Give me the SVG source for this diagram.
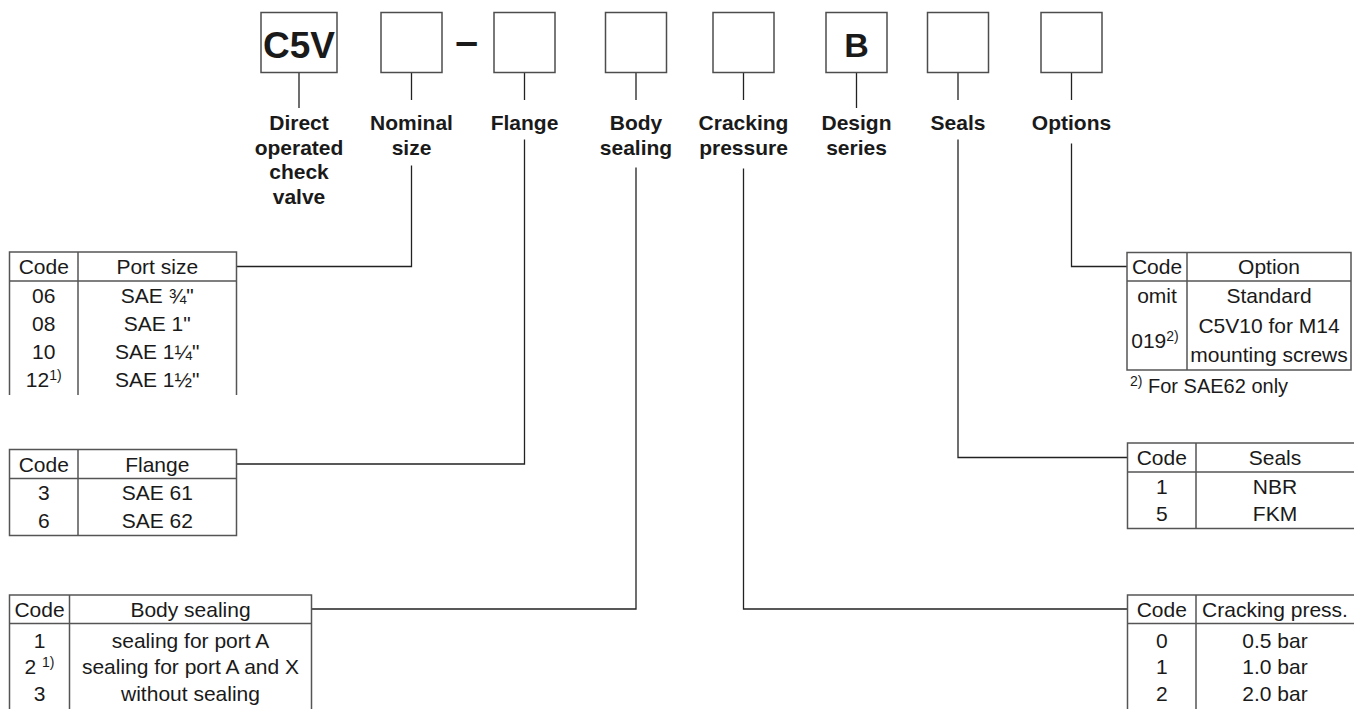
<svg xmlns="http://www.w3.org/2000/svg" width="1354" height="709" viewBox="0 0 1354 709">
<style>
text { font-family: "Liberation Sans", Arial, Helvetica, sans-serif; fill: #1a1a1a; }
.box { fill: #fff; stroke: #4d4d4d; stroke-width: 1.5; }
.lbl { font-size: 21px; font-weight: bold; text-anchor: middle; }
.code { font-weight: bold; text-anchor: middle; }
.tb { fill: none; stroke: #555; stroke-width: 1.5; }
.td { font-size: 21px; text-anchor: middle; }
.sup { font-size: 14px; }
.con { fill: none; stroke: #222; stroke-width: 1.3; }
</style>
<rect width="1354" height="709" fill="#fff"/>

<g id="connectors">
  <path class="con" d="M299,72.5 V108 M411.5,72.5 V100 M524.5,72.5 V100 M636,72.5 V100 M743.5,72.5 V100 M856.5,72.5 V108 M958,72.5 V100 M1071.5,72.5 V100"/>
  <path class="con" d="M411.5,165.5 V266.5 H236.5"/>
  <path class="con" d="M524.5,139.5 V464 H236.5"/>
  <path class="con" d="M636,167.5 V609 H311.5"/>
  <path class="con" d="M743.5,168.5 V609 H1127.5"/>
  <path class="con" d="M958,139.5 V457.5 H1127.5"/>
  <path class="con" d="M1071.5,143.5 V266.5 H1127"/>
</g>

<g id="pos-type">
  <rect class="box" x="261" y="12.5" width="76" height="60"/>
  <text class="code" x="299" y="57.5" font-size="37">C5V</text>
  <text class="lbl" x="299" y="130">Direct</text>
  <text class="lbl" x="299" y="154.5">operated</text>
  <text class="lbl" x="299" y="179">check</text>
  <text class="lbl" x="299" y="203.5">valve</text>
</g>

<g id="pos-size">
  <rect class="box" x="381" y="12.5" width="61" height="60"/>
  <text class="lbl" x="411.5" y="130">Nominal</text>
  <text class="lbl" x="411.5" y="154.5">size</text>
</g>

<g id="dash">
  <text class="code" x="466.7" y="55" font-size="41">–</text>
</g>

<g id="pos-flange">
  <rect class="box" x="494" y="12.5" width="61" height="60"/>
  <text class="lbl" x="524.5" y="130">Flange</text>
</g>

<g id="pos-body">
  <rect class="box" x="605.5" y="12.5" width="61" height="60"/>
  <text class="lbl" x="636" y="130">Body</text>
  <text class="lbl" x="636" y="154.5">sealing</text>
</g>

<g id="pos-cracking">
  <rect class="box" x="713" y="12.5" width="61" height="60"/>
  <text class="lbl" x="743.5" y="130">Cracking</text>
  <text class="lbl" x="743.5" y="154.5">pressure</text>
</g>

<g id="pos-design">
  <rect class="box" x="826" y="12.5" width="61" height="60"/>
  <text class="code" x="856.5" y="57" font-size="34">B</text>
  <text class="lbl" x="856.5" y="130">Design</text>
  <text class="lbl" x="856.5" y="154.5">series</text>
</g>

<g id="pos-seals">
  <rect class="box" x="927.5" y="12.5" width="61" height="60"/>
  <text class="lbl" x="958" y="130">Seals</text>
</g>

<g id="pos-options">
  <rect class="box" x="1041" y="12.5" width="61" height="60"/>
  <text class="lbl" x="1071.5" y="130">Options</text>
</g>

<g id="table-port-size">
  <path class="tb" d="M9.5,395 V252 H236.5 V395 M9.5,281 H236.5 M78,252 V395"/>
  <text class="td" x="43.75" y="274">Code</text>
  <text class="td" x="157.25" y="274">Port size</text>
  <text class="td" x="43.75" y="302.5">06</text>
  <text class="td" x="157.25" y="302.5">SAE ¾"</text>
  <text class="td" x="43.75" y="330.5">08</text>
  <text class="td" x="157.25" y="330.5">SAE 1"</text>
  <text class="td" x="43.75" y="358.5">10</text>
  <text class="td" x="157.25" y="358.5">SAE 1¼"</text>
  <text class="td" x="43.75" y="386.5">12<tspan class="sup" dy="-7">1)</tspan></text>
  <text class="td" x="157.25" y="386.5">SAE 1½"</text>
</g>

<g id="table-flange">
  <path class="tb" d="M9.5,449.5 H236.5 V535.5 H9.5 Z M9.5,478.5 H236.5 M78,449.5 V535.5"/>
  <text class="td" x="43.75" y="471.5">Code</text>
  <text class="td" x="157.25" y="471.5">Flange</text>
  <text class="td" x="43.75" y="500">3</text>
  <text class="td" x="157.25" y="500">SAE 61</text>
  <text class="td" x="43.75" y="528">6</text>
  <text class="td" x="157.25" y="528">SAE 62</text>
</g>

<g id="table-body-sealing">
  <path class="tb" d="M9.5,709 V595 H311.5 V709 M9.5,623.5 H311.5 M69.5,595 V709"/>
  <text class="td" x="39.5" y="616.5">Code</text>
  <text class="td" x="190.5" y="616.5">Body sealing</text>
  <text class="td" x="39.5" y="647.5">1</text>
  <text class="td" x="190.5" y="647.5">sealing for port A</text>
  <text class="td" x="39.5" y="674">2 <tspan class="sup" dy="-7">1)</tspan></text>
  <text class="td" x="190.5" y="674">sealing for port A and X</text>
  <text class="td" x="39.5" y="700.5">3</text>
  <text class="td" x="190.5" y="700.5">without sealing</text>
</g>

<g id="table-cracking">
  <path class="tb" d="M1127.5,709 V595 H1354 M1127.5,623.5 H1354 M1196,595 V709"/>
  <text class="td" x="1161.75" y="616.5">Code</text>
  <text class="td" x="1275" y="616.5">Cracking press.</text>
  <text class="td" x="1161.75" y="647.5">0</text>
  <text class="td" x="1275" y="647.5">0.5 bar</text>
  <text class="td" x="1161.75" y="674">1</text>
  <text class="td" x="1275" y="674">1.0 bar</text>
  <text class="td" x="1161.75" y="700.5">2</text>
  <text class="td" x="1275" y="700.5">2.0 bar</text>
</g>

<g id="table-seals">
  <path class="tb" d="M1354,443 H1127.5 V528.5 H1354 M1127.5,472 H1354 M1196,443 V528.5"/>
  <text class="td" x="1161.75" y="465">Code</text>
  <text class="td" x="1275" y="465">Seals</text>
  <text class="td" x="1161.75" y="493.5">1</text>
  <text class="td" x="1275" y="493.5">NBR</text>
  <text class="td" x="1161.75" y="521">5</text>
  <text class="td" x="1275" y="521">FKM</text>
</g>

<g id="table-options">
  <path class="tb" d="M1127,252.5 H1351 V370 H1127 Z M1127,281 H1351 M1187,252.5 V370"/>
  <text class="td" x="1157" y="274">Code</text>
  <text class="td" x="1269" y="274">Option</text>
  <text class="td" x="1157" y="302.5">omit</text>
  <text class="td" x="1269" y="302.5">Standard</text>
  <text class="td" x="1155" y="347.5">019<tspan class="sup" dy="-7">2)</tspan></text>
  <text class="td" x="1269" y="332.5">C5V10 for M14</text>
  <text class="td" x="1269" y="362">mounting screws</text>
  <text x="1130" y="393" font-size="20"><tspan class="sup" dy="-7">2)</tspan><tspan dy="7"> For SAE62 only</tspan></text>
</g>
</svg>
